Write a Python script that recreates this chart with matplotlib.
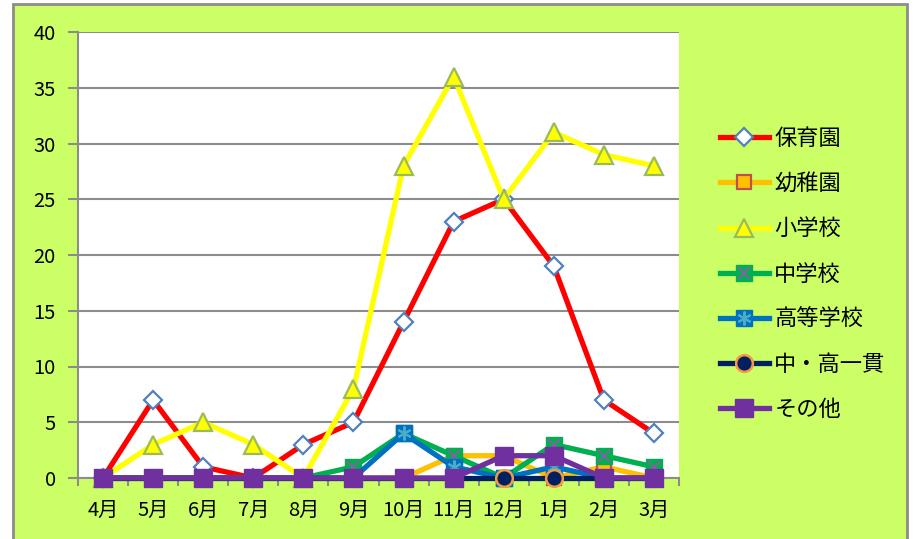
import matplotlib
matplotlib.use("Agg")
import matplotlib.pyplot as plt
from matplotlib.patches import Rectangle
from matplotlib.lines import Line2D

plt.rcParams['font.family'] = ['Noto Sans CJK JP', 'DejaVu Sans']

months = ["4月", "5月", "6月", "7月", "8月", "9月", "10月", "11月", "12月", "1月", "2月", "3月"]
hoikuen = [0, 7, 1, 0, 3, 5, 14, 23, 25, 19, 7, 4]
youchien = [0, 0, 0, 0, 0, 0, 0, 2, 2, 0, 1, 0]
shogakko = [0, 3, 5, 3, 0, 8, 28, 36, 25, 31, 29, 28]
chugakko = [0, 0, 0, 0, 0, 1, 4, 2, 0, 3, 2, 1]
kotogakko = [0, 0, 0, 0, 0, 0, 4, 1, 0, 1, 0, 0]
chuko = [0, 0, 0, 0, 0, 0, 0, 0, 0, 0, 0, 0]
sonota = [0, 0, 0, 0, 0, 0, 0, 0, 2, 2, 0, 0]
series_names = ["保育園", "幼稚園", "小学校", "中学校", "高等学校", "中・高一貫", "その他"]
yticks = [0, 5, 10, 15, 20, 25, 30, 35, 40]

W, H = 915, 539
fig = plt.figure(figsize=(W / 100, H / 100), dpi=100, facecolor="white")
bg = Rectangle((13 / W, -0.05), (907 - 13) / W, 1.05 - 4 / H,
               transform=fig.transFigure, facecolor="#CCFF66",
               edgecolor="#8C8C8C", linewidth=2, zorder=-10)
fig.patches.append(bg)

ax = fig.add_axes([78 / W, (H - 478) / H, (679 - 78) / W, (478 - 32) / H])
ax.set_zorder(1)
ax.set_facecolor("white")
x = list(range(len(months)))
lw = 3.8

l1, = ax.plot(x, hoikuen, color="#FF0000", lw=lw, marker="D", ms=9.5,
              mfc="white", mec="#4F81BD", mew=1.6, zorder=3, clip_on=False)
l2, = ax.plot(x, youchien, color="#FFC000", lw=lw, marker="s", ms=10,
              mfc="#FFC000", mec="#C0504D", mew=1.6, zorder=4, clip_on=False)
l3, = ax.plot(x, shogakko, color="#FFFF00", lw=lw, marker="^", ms=12.5,
              mfc="#FFFF00", mec="#9BBB59", mew=1.6, zorder=5, clip_on=False)
l4, = ax.plot(x, chugakko, color="#00B050", lw=lw, marker="s", ms=12,
              mfc="#00B050", mec="#00B050", mew=1, zorder=6, clip_on=False)
ax.plot(x, chugakko, ls="none", marker="x", ms=9, mec="#8064A2", mew=1.5, zorder=6.1, clip_on=False)
l5, = ax.plot(x, kotogakko, color="#0070C0", lw=lw, marker="s", ms=12,
              mfc="#0070C0", mec="#0070C0", mew=1, zorder=7, clip_on=False)
ax.plot(x, kotogakko, ls="none", marker=(6, 2, 0), ms=10, mec="#4BACC6", mew=1.5, zorder=7.1, clip_on=False)
l6, = ax.plot(x, chuko, color="#002060", lw=lw, marker="o", ms=12,
              mfc="#002060", mec="#F79646", mew=1.8, zorder=8, clip_on=False)
l7, = ax.plot(x, sonota, color="#7030A0", lw=lw, marker="s", ms=13,
              mfc="#7030A0", mec="#7030A0", mew=1, zorder=9, clip_on=False)

ax.set_xlim(-0.5, len(months) - 0.5)
ax.set_ylim(0, 40)
ax.set_yticks(yticks)
ax.set_yticklabels([str(v) for v in yticks], fontsize=14.5)
ax.set_xticks(x)
ax.set_xticklabels(months, fontsize=14.5)
ax.set_xticks([i - 0.5 for i in range(len(months) + 1)], minor=True)
ax.tick_params(axis="x", which="major", length=0, pad=16)
ax.tick_params(axis="x", which="minor", length=6, color="#8C8C8C", width=1.5)
ax.tick_params(axis="y", length=7, color="#8C8C8C", width=1.5, pad=9)
ax.grid(axis="y", color="#8C8C8C", lw=1.5, zorder=1)
ax.set_axisbelow(True)
for s in ["top", "right"]:
    ax.spines[s].set_visible(False)
for s in ["left", "bottom"]:
    ax.spines[s].set_color("#8C8C8C")
    ax.spines[s].set_linewidth(1.5)

handles = [
    l1, l2, l3,
    (Line2D([], [], color="#00B050", lw=lw, marker="s", ms=12, mfc="#00B050", mec="#00B050"),
     Line2D([], [], ls="none", marker="x", ms=9, mec="#8064A2", mew=1.5)),
    (Line2D([], [], color="#0070C0", lw=lw, marker="s", ms=12, mfc="#0070C0", mec="#0070C0"),
     Line2D([], [], ls="none", marker=(6, 2, 0), ms=10, mec="#4BACC6", mew=1.5)),
    l6, l7,
]
leg = fig.legend(handles, series_names, loc="upper left",
                 bbox_to_anchor=(711 / W, 1 - 118 / H), frameon=False,
                 fontsize=16, handlelength=2.2, labelspacing=1.0,
                 handletextpad=0.25, borderaxespad=0)

fig.savefig("out.png", dpi=100, facecolor=fig.get_facecolor())
